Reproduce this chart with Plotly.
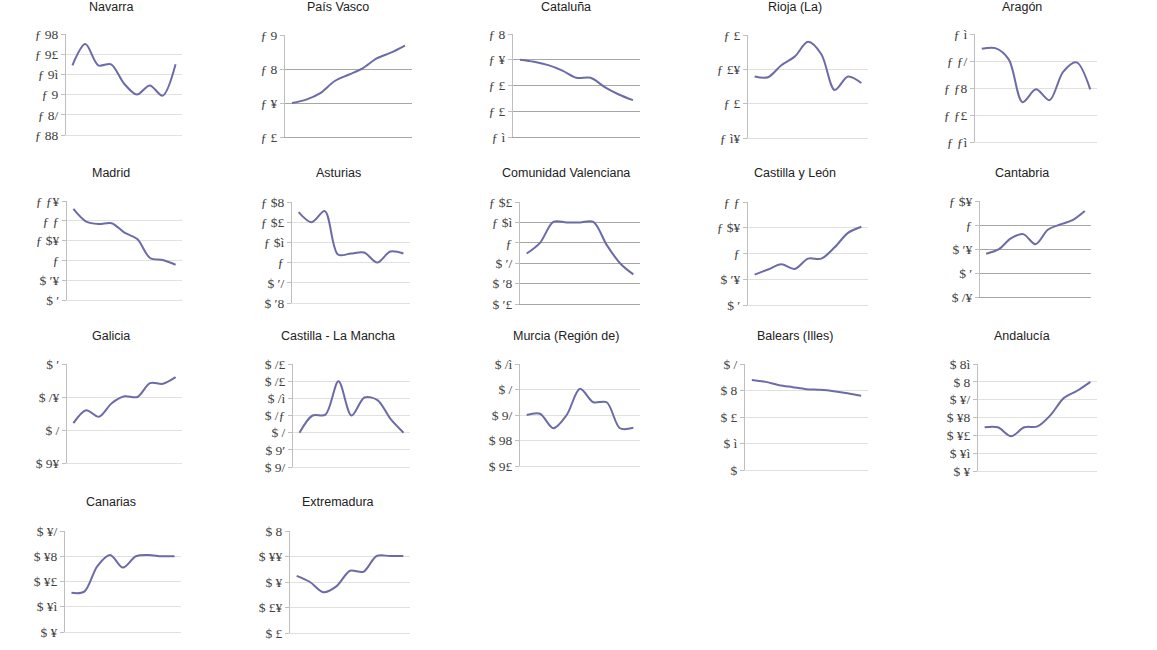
import plotly.graph_objects as go

W, H = 1157, 650

# ---------------- data ----------------
regions = ["Navarra", "País Vasco", "Cataluña", "Rioja (La)", "Aragón",
           "Madrid", "Asturias", "Comunidad Valenciana", "Castilla y León", "Cantabria",
           "Galicia", "Castilla - La Mancha", "Murcia (Región de)", "Balears (Illes)", "Andalucía",
           "Canarias", "Extremadura"]

periods = list(range(9))

navarra = [1.729, 1.750, 1.729, 1.730, 1.711, 1.700, 1.709, 1.699, 1.730]
pais_vasco = [1.500, 1.510, 1.529, 1.564, 1.583, 1.602, 1.631, 1.648, 1.669]
cataluna = [1.500, 1.492, 1.479, 1.458, 1.430, 1.430, 1.394, 1.365, 1.343]
rioja = [1.3395, 1.3385, 1.356, 1.3685, 1.390, 1.372, 1.320, 1.3395, 1.330]
aragon = [1.189, 1.1895, 1.181, 1.1495, 1.159, 1.151, 1.172, 1.179, 1.159]
madrid = [1.130, 1.098, 1.092, 1.094, 1.070, 1.054, 1.006, 1.001, 0.989]
asturias = [1.050, 1.040, 1.051, 1.008, 1.009, 1.010, 1.000, 1.011, 1.009]
valenciana = [0.9895, 1.000, 1.0205, 1.020, 1.020, 1.0205, 0.998, 0.980, 0.969]
castilla_leon = [0.959, 0.969, 0.979, 0.970, 0.990, 0.990, 1.012, 1.040, 1.052]
cantabria = [0.940, 0.949, 0.972, 0.981, 0.960, 0.990, 1.001, 1.010, 1.029]
galicia = [0.8105, 0.830, 0.820, 0.8406, 0.851, 0.850, 0.871, 0.870, 0.880]
castilla_mancha = [0.800, 0.810, 0.8105, 0.830, 0.810, 0.8205, 0.819, 0.808, 0.800]
murcia = [0.780, 0.781, 0.7696, 0.780, 0.8005, 0.790, 0.790, 0.7696, 0.770]
baleares = [0.680, 0.665, 0.640, 0.625, 0.610, 0.605, 0.595, 0.580, 0.560]
andalucia = [0.549, 0.549, 0.539, 0.549, 0.550, 0.563, 0.582, 0.590, 0.600]
canarias = [0.531, 0.532, 0.552, 0.561, 0.551, 0.560, 0.561, 0.560, 0.560]
extremadura = [0.512, 0.500, 0.480, 0.492, 0.522, 0.520, 0.551, 0.551, 0.551]

series = [navarra, pais_vasco, cataluna, rioja, aragon,
          madrid, asturias, valenciana, castilla_leon, cantabria,
          galicia, castilla_mancha, murcia, baleares, andalucia,
          canarias, extremadura]

ticks_navarra = [1.66, 1.68, 1.70, 1.72, 1.74, 1.76]
ticks_pais_vasco = [1.4, 1.5, 1.6, 1.7]
ticks_cataluna = [1.2, 1.3, 1.4, 1.5, 1.6]
ticks_rioja = [1.25, 1.3, 1.35, 1.4]
ticks_aragon = [1.12, 1.14, 1.16, 1.18, 1.2]
ticks_madrid = [0.9, 0.95, 1.0, 1.05, 1.1, 1.15]
ticks_asturias = [0.96, 0.98, 1.0, 1.02, 1.04, 1.06]
ticks_valenciana = [0.94, 0.96, 0.98, 1.0, 1.02, 1.04]
ticks_castilla_leon = [0.9, 0.95, 1.0, 1.05, 1.1]
ticks_cantabria = [0.85, 0.9, 0.95, 1.0, 1.05]
ticks_galicia = [0.75, 0.8, 0.85, 0.9]
ticks_castilla_mancha = [0.78, 0.79, 0.8, 0.81, 0.82, 0.83, 0.84]
ticks_murcia = [0.74, 0.76, 0.78, 0.8, 0.82]
ticks_baleares = [0.0, 0.2, 0.4, 0.6, 0.8]
ticks_andalucia = [0.5, 0.52, 0.54, 0.56, 0.58, 0.6, 0.62]
ticks_canarias = [0.5, 0.52, 0.54, 0.56, 0.58]
ticks_extremadura = [0.4, 0.45, 0.5, 0.55, 0.6]

ticks = [ticks_navarra, ticks_pais_vasco, ticks_cataluna, ticks_rioja, ticks_aragon,
         ticks_madrid, ticks_asturias, ticks_valenciana, ticks_castilla_leon, ticks_cantabria,
         ticks_galicia, ticks_castilla_mancha, ticks_murcia, ticks_baleares, ticks_andalucia,
         ticks_canarias, ticks_extremadura]

# glyphs shown in place of the digits in the reference rendering
glyph = {"0": "$", "1": "ƒ", "2": "ì", "3": "£", "4": "£", "5": "¥",
         "6": "8", "7": "9", "8": "/", "9": "ʹ", ",": " "}

# ---------------- layout ----------------
# plot boxes in pixels: left, right, top, bottom
boxes = [(66, 182, 34, 135), (285, 412, 35, 137), (513, 640, 34, 137), (748, 868, 35, 138), (975, 1097, 34, 142),
         (67, 182, 201, 300), (292, 410, 202, 303), (520, 640, 202, 304), (748, 868, 202, 305), (980, 1091, 201, 297),
         (67, 182, 364, 463), (293, 410, 364, 467), (520, 640, 364, 466), (745, 868, 364, 470), (978, 1097, 364, 471),
         (65, 181, 531, 632), (290, 410, 531, 633)]
title_x = [111, 338, 566, 795, 1022]
title_y = [7, 173, 336, 502]
dark_grid = {"País Vasco", "Cataluña", "Comunidad Valenciana", "Cantabria"}


def label(v):
    s = f"{v:.2f}".rstrip("0").rstrip(".").replace(".", ",")
    return "".join(glyph.get(c, c) for c in s)


fig = go.Figure()
layout = dict(width=W, height=H, margin=dict(l=0, r=0, t=0, b=0, autoexpand=False),
              paper_bgcolor="white", plot_bgcolor="white", showlegend=False,
              annotations=[])

for i, (name, vals, tv) in enumerate(zip(regions, series, ticks)):
    n = i + 1
    xa = "xaxis" if n == 1 else f"xaxis{n}"
    ya = "yaxis" if n == 1 else f"yaxis{n}"
    xr = "x" if n == 1 else f"x{n}"
    yr = "y" if n == 1 else f"y{n}"
    l, r, t, b = boxes[i]
    gc = "#a6a6a6" if name in dark_grid else "#e0e0e0"
    fig.add_trace(go.Scatter(x=periods, y=vals, mode="lines",
                             line=dict(color="#6b6ba8", width=2, shape="spline", smoothing=0.9),
                             xaxis=xr, yaxis=yr, hoverinfo="skip"))
    layout[xa] = dict(domain=[l / W, r / W], anchor=yr, range=[-0.5, len(periods) - 0.5],
                      showticklabels=False, showgrid=False, zeroline=False, automargin=False,
                      showline=True, linecolor=gc, linewidth=1, ticks="")
    layout[ya] = dict(domain=[1 - b / H, 1 - t / H], anchor=xr, range=[tv[0], tv[-1]],
                      tickmode="array", tickvals=tv, ticktext=[label(v) for v in tv],
                      showgrid=True, gridcolor=gc, gridwidth=1, zeroline=False, automargin=False,
                      showline=True, linecolor="#bfbfbf", linewidth=1,
                      ticks="outside", ticklen=4, tickcolor="#bfbfbf",
                      tickfont=dict(family="Liberation Serif", size=13.5, color="#404040"))
    layout["annotations"].append(dict(text=name, x=title_x[i % 5] / W, y=1 - title_y[i // 5] / H,
                                      xref="paper", yref="paper", xanchor="center", yanchor="middle",
                                      showarrow=False,
                                      font=dict(family="Liberation Sans", size=12.5, color="#222222")))

fig.update_layout(**layout)
fig.write_html("out.html", config={"displayModeBar": False},
               post_script="document.body.style.margin='0';document.body.style.overflow='hidden';")
